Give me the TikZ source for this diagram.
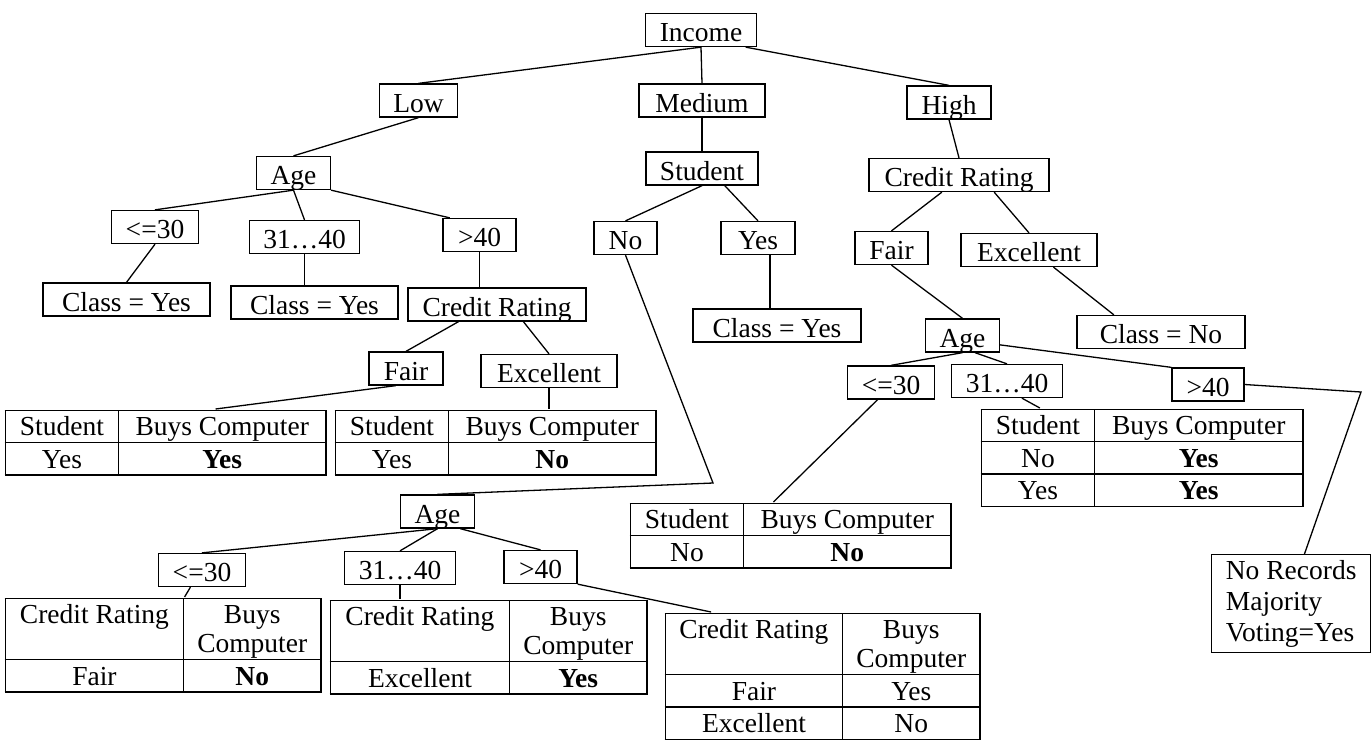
\documentclass[tikz,border=0pt]{standalone}
\usepackage{fontspec}
\setmainfont{Liberation Serif}
\usepackage{array}
\newcolumntype{C}[1]{>{\centering\arraybackslash}p{#1}}
\setlength\tabcolsep{0pt}
\setlength\arrayrulewidth{0.65pt}
\setlength\extrarowheight{7.7pt}
\renewcommand\arraystretch{0.7}

\begin{document}
\begin{tikzpicture}[x=0.5pt,y=-0.5pt,line width=0.65pt,font=\fontsize{13.75}{14.5}\selectfont,
  box/.style={draw,minimum height=16.5pt,inner xsep=7pt,inner ysep=0pt,text height=14pt,text depth=2.5pt},
  tbl/.style={inner sep=0pt,anchor=north west},
  note/.style={draw,align=left,anchor=north west,inner ysep=2.5pt,minimum width=79.5pt,minimum height=49pt,font=\fontsize{13.75}{15.5}\selectfont}]

  \useasboundingbox (0,0) rectangle (1371,751);

  % top levels
  \node[box,minimum width=55pt] (income) at (701,30) {Income};
  \node[box,minimum width=38.5pt] (low) at (418.5,100.5) {Low};
  \node[box,minimum width=63pt] (medium) at (702,100.5) {Medium};
  \node[box,minimum width=42pt] (high) at (949,102.5) {High};

  % low income branch
  \node[box,minimum width=36.5pt] (ageL) at (293.5,173) {Age};
  \node[box,minimum width=43pt] (le30L) at (155,227) {<=30};
  \node[box,minimum width=54.5pt] (r3140L) at (304.5,237) {31…40};
  \node[box,minimum width=36.5pt] (gt40L) at (479.5,235) {>40};
  \node[box,minimum width=83.5pt] (classL1) at (126.5,299.5) {Class = Yes};
  \node[box,minimum width=83.5pt] (classL2) at (314.5,302.5) {Class = Yes};
  \node[box,minimum width=89pt] (crL) at (497,304.5) {Credit Rating};
  \node[box,minimum width=37pt] (fairL) at (406,368.5) {Fair};
  \node[box,minimum width=68pt] (excL) at (549,371) {Excellent};
  \node[tbl] (tabA) at (4,409) {\begin{tabular}{|C{56pt}|C{103pt}|}\hline
    Student & Buys Computer\\\hline Yes & \textbf{Yes}\\\hline\end{tabular}};
  \node[tbl] (tabB) at (334,409) {\begin{tabular}{|C{56pt}|C{103pt}|}\hline
    Student & Buys Computer\\\hline Yes & \textbf{No}\\\hline\end{tabular}};

  % medium income branch
  \node[box,minimum width=56pt] (student) at (702,168.5) {Student};
  \node[box,minimum width=31.5pt] (no) at (625.5,238) {No};
  \node[box,minimum width=37pt] (yes) at (758,238) {Yes};
  \node[box,minimum width=84pt] (classM) at (777,325.5) {Class = Yes};
  \coordinate (noBend) at (713,483);
  \node[box,minimum width=36.5pt] (ageB) at (437.5,511.5) {Age};
  \node[box,minimum width=43pt] (le30B) at (202,570) {<=30};
  \node[box,minimum width=55pt] (r3140B) at (400,568) {31…40};
  \node[box,minimum width=36.5pt] (gt40B) at (540.5,567) {>40};
  \node[tbl] (tabE) at (4,597) {\begin{tabular}{|C{88.5pt}|C{68pt}|}\hline
    Credit Rating & Buys Computer\\\hline Fair & \textbf{No}\\\hline\end{tabular}};
  \node[tbl] (tabF) at (329,599) {\begin{tabular}{|C{89pt}|C{68pt}|}\hline
    Credit Rating & Buys Computer\\\hline Excellent & \textbf{Yes}\\\hline\end{tabular}};
  \node[tbl] (tabG) at (664,612) {\begin{tabular}{|C{88pt}|C{68pt}|}\hline
    Credit Rating & Buys Computer\\\hline Fair & Yes\\\hline Excellent & No\\\hline\end{tabular}};

  % high income branch
  \node[box,minimum width=90pt] (crH) at (959,175) {Credit Rating};
  \node[box,minimum width=36.5pt] (fairR) at (891.5,248) {Fair};
  \node[box,minimum width=68pt] (excR) at (1029,250) {Excellent};
  \node[box,minimum width=84pt] (classNo) at (1161,332) {Class = No};
  \node[box,minimum width=36.5pt] (ageR) at (962.5,335.5) {Age};
  \node[box,minimum width=43pt] (le30R) at (891,382.5) {<=30};
  \node[box,minimum width=55pt] (r3140R) at (1007,381) {31…40};
  \node[box,minimum width=36pt] (gt40R) at (1208,384.5) {>40};
  \node[tbl] (tabC) at (980,408) {\begin{tabular}{|C{56pt}|C{103.5pt}|}\hline
    Student & Buys Computer\\\hline No & \textbf{Yes}\\\hline Yes & \textbf{Yes}\\\hline\end{tabular}};
  \node[tbl] (tabD) at (629,502) {\begin{tabular}{|C{56pt}|C{103pt}|}\hline
    Student & Buys Computer\\\hline No & \textbf{No}\\\hline\end{tabular}};
  \coordinate (gtBend) at (1361,392);
  \node[note] (noRec) at (1211,554) {No Records\\Majority\\Voting=Yes};

  \path (income.south) edge (low.north)
                       edge (medium.north)
        (income.-21) edge (high.north)
        (low.south) edge (ageL.north)
        (medium.south) edge (student.north)
        (high.south) edge (crH.north)
        (ageL.south) edge (le30L.north)
                     edge (r3140L.north)
        (ageL.south east) edge (gt40L.150)
        (le30L.south) edge (classL1.north)
        (r3140L.south) edge (r3140L.south |- classL2.north)
        (gt40L.south) edge (gt40L.south |- crL.north)
        (crL.-156) edge (fairL.north)
        (crL.-33) edge (excL.north)
        (fairL.-121) edge (tabA.34)
        (excL.south) edge (excL.south |- tabB.north)
        (student.south) edge (no.north)
        (student.-37) edge (yes.north)
        (yes.-55) edge (yes.-55 |- classM.north)
        (ageB.south) edge (le30B.north)
                     edge (r3140B.north)
        (ageB.-37) edge (gt40B.north)
        (le30B.-124) edge (tabE.66)
        (r3140B.south) edge (r3140B.south |- tabF.north)
        (gt40B.south east) edge (tabG.150)
        (crH.-135) edge (fairR.north)
        (crH.-26) edge (excR.north)
        (excR.-35) edge (classNo.160)
        (fairR.south) edge (ageR.north)
        (ageR.south) edge (le30R.north)
        (ageR.-54) edge (r3140R.north)
        (ageR.-14) edge (gt40R.north west)
        (r3140R.-49) edge (tabC.154)
        (le30R.-128) edge (tabD.117);
  \draw (no.south) -- (noBend) -- (ageB.north);
  \draw (gt40R.east) -- (gtBend) -- (noRec.75);
\end{tikzpicture}
\end{document}
